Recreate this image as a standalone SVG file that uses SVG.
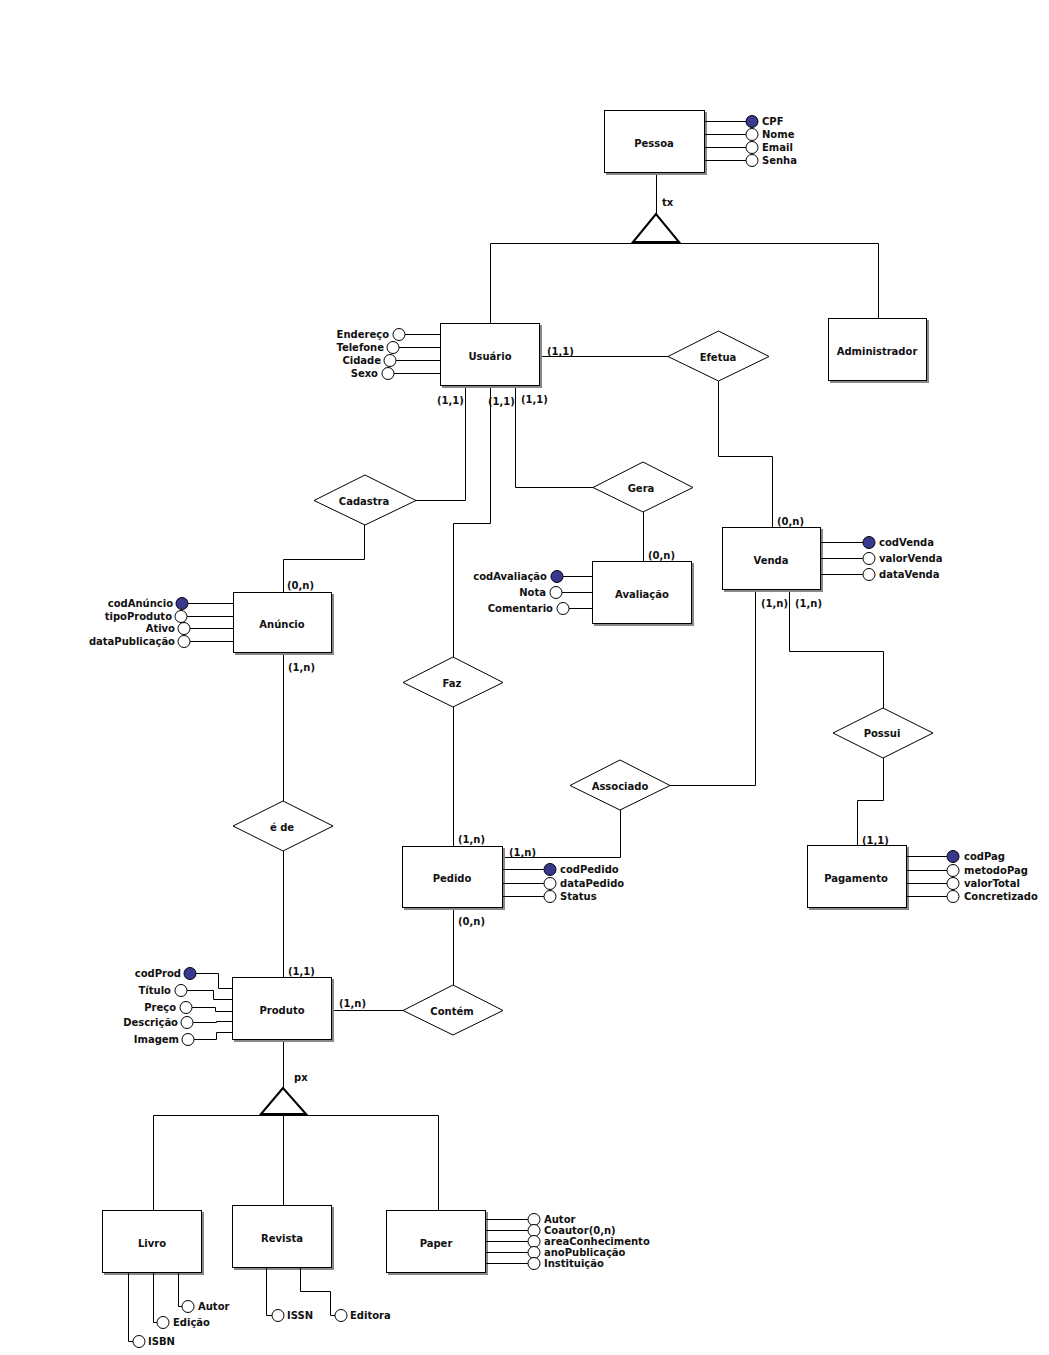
<svg xmlns="http://www.w3.org/2000/svg" width="1049" height="1355" viewBox="0 0 1049 1355">
<style>
text{font-family:"DejaVu Sans","Liberation Sans",sans-serif;font-weight:bold;font-size:10px;fill:#111}
.c{text-anchor:middle}
.r{text-anchor:end}
.box{fill:#fff;stroke:#000;stroke-width:1}
.sh{fill:#888}
.dia{fill:#fff;stroke:#000;stroke-width:1}
.ln{fill:none;stroke:#000;stroke-width:1}
.tri{fill:#fff;stroke:#000;stroke-width:2}
.ao{fill:#fff;stroke:#000;stroke-width:1}
.ak{fill:#38388f;stroke:#000;stroke-width:1}
</style>
<rect width="1049" height="1355" fill="#fff"/>
<g id="connectors">
<path class="ln" d="M656.5 173V214"/>
<path class="ln" d="M490.5 323V243.5H878.5V318"/>
<path class="ln" d="M540 356.5H668"/>
<path class="ln" d="M718.5 381V456.5H772.5V527"/>
<path class="ln" d="M465.5 386V500.5H415"/>
<path class="ln" d="M364.5 525V559.5H283.5V592"/>
<path class="ln" d="M490.5 386V523.5H453.5V657"/>
<path class="ln" d="M515.5 386V487.5H593"/>
<path class="ln" d="M643.5 512V561"/>
<path class="ln" d="M453.5 707V846"/>
<path class="ln" d="M755.5 590V785.5H670"/>
<path class="ln" d="M620.5 810V857.5H503"/>
<path class="ln" d="M789.5 590V651.5H883.5V708"/>
<path class="ln" d="M883.5 758V800.5H857.5V845"/>
<path class="ln" d="M283.5 653V801"/>
<path class="ln" d="M283.5 851V977"/>
<path class="ln" d="M453.5 908V985"/>
<path class="ln" d="M332 1010.5H403"/>
<path class="ln" d="M283.5 1040V1088"/>
<path class="ln" d="M153.5 1210V1115.5H438.5V1210"/>
<path class="ln" d="M283.5 1115V1205"/>
</g>
<g id="isa-tx">
<polygon class="tri" points="656,214 633,242 679,242"/>
<text x="662" y="206">tx</text>
</g>
<g id="isa-px">
<polygon class="tri" points="283,1088 261,1114 306,1114"/>
<text x="294" y="1081">px</text>
</g>
<g id="Pessoa">
<rect class="sh" x="606" y="112" width="101" height="63"/>
<rect class="box" x="604.5" y="110.5" width="100" height="62"/>
<text class="c" x="654" y="147">Pessoa</text>
<path class="ln" d="M705 121.5H746M705 134.5H746M705 147.5H746M705 160.5H746"/>
<circle class="ak" cx="752" cy="121.5" r="6"/>
<circle class="ao" cx="752" cy="134.5" r="6"/>
<circle class="ao" cx="752" cy="147.5" r="6"/>
<circle class="ao" cx="752" cy="160.5" r="6"/>
<text x="762" y="125">CPF</text>
<text x="762" y="138">Nome</text>
<text x="762" y="151">Email</text>
<text x="762" y="164">Senha</text>
</g>
<g id="Usuario">
<rect class="sh" x="442" y="325" width="100" height="63"/>
<rect class="box" x="440.5" y="323.5" width="99" height="62"/>
<text class="c" x="490" y="360">Usuário</text>
<path class="ln" d="M405 334.5H440M399 347.5H440M396 360.5H440M394 373.5H440"/>
<circle class="ao" cx="399" cy="334.5" r="6"/>
<circle class="ao" cx="393" cy="347.5" r="6"/>
<circle class="ao" cx="390" cy="360.5" r="6"/>
<circle class="ao" cx="388" cy="373.5" r="6"/>
<text class="r" x="389" y="338">Endereço</text>
<text class="r" x="384" y="351">Telefone</text>
<text class="r" x="381" y="364">Cidade</text>
<text class="r" x="378" y="377">Sexo</text>
</g>
<g id="Administrador">
<rect class="sh" x="830" y="320" width="99" height="63"/>
<rect class="box" x="828.5" y="318.5" width="98" height="62"/>
<text class="c" x="877" y="355">Administrador</text>
</g>
<g id="Efetua">
<polygon class="dia" points="668,356.5 718.5,331 769,356.5 718.5,381"/>
<text class="c" x="718" y="361">Efetua</text>
</g>
<g id="Cadastra">
<polygon class="dia" points="314,500.5 365,475 416,500.5 365,525"/>
<text class="c" x="364" y="505">Cadastra</text>
</g>
<g id="Gera">
<polygon class="dia" points="593,487.5 643,462 693,487.5 643,512"/>
<text class="c" x="641" y="492">Gera</text>
</g>
<g id="Avaliacao">
<rect class="sh" x="594" y="563" width="100" height="63"/>
<rect class="box" x="592.5" y="561.5" width="99" height="62"/>
<text class="c" x="642" y="598">Avaliação</text>
<path class="ln" d="M563 576.5H592M562 592.5H592M569 608.5H592"/>
<circle class="ak" cx="557" cy="576.5" r="6"/>
<circle class="ao" cx="556" cy="592.5" r="6"/>
<circle class="ao" cx="563" cy="608.5" r="6"/>
<text class="r" x="547" y="580">codAvaliação</text>
<text class="r" x="546" y="596">Nota</text>
<text class="r" x="553" y="612">Comentario</text>
</g>
<g id="Venda">
<rect class="sh" x="724" y="529" width="99" height="63"/>
<rect class="box" x="722.5" y="527.5" width="98" height="62"/>
<text class="c" x="771" y="564">Venda</text>
<path class="ln" d="M821 542.5H863M821 558.5H863M821 574.5H863"/>
<circle class="ak" cx="869" cy="542.5" r="6"/>
<circle class="ao" cx="869" cy="558.5" r="6"/>
<circle class="ao" cx="869" cy="574.5" r="6"/>
<text x="879" y="546">codVenda</text>
<text x="879" y="562">valorVenda</text>
<text x="879" y="578">dataVenda</text>
</g>
<g id="Anuncio">
<rect class="sh" x="235" y="594" width="99" height="61"/>
<rect class="box" x="233.5" y="592.5" width="98" height="60"/>
<text class="c" x="282" y="628">Anúncio</text>
<path class="ln" d="M188 603.5H233M187 616.5H233M190 628.5H233M190 641.5H233"/>
<circle class="ak" cx="182" cy="603.5" r="6"/>
<circle class="ao" cx="181" cy="616.5" r="6"/>
<circle class="ao" cx="184" cy="628.5" r="6"/>
<circle class="ao" cx="184" cy="641.5" r="6"/>
<text class="r" x="173" y="607">codAnúncio</text>
<text class="r" x="172" y="620">tipoProduto</text>
<text class="r" x="175" y="632">Ativo</text>
<text class="r" x="175" y="645">dataPublicação</text>
</g>
<g id="Faz">
<polygon class="dia" points="403,682.5 453,657 503,682.5 453,707"/>
<text class="c" x="452" y="687">Faz</text>
</g>
<g id="Associado">
<polygon class="dia" points="570,785.5 620,760 670,785.5 620,810"/>
<text class="c" x="620" y="790">Associado</text>
</g>
<g id="Possui">
<polygon class="dia" points="833,733 883,708 933,733 883,758"/>
<text class="c" x="882" y="737">Possui</text>
</g>
<g id="e-de">
<polygon class="dia" points="233,826 283,801 333,826 283,851"/>
<text class="c" x="282" y="831">é de</text>
</g>
<g id="Pedido">
<rect class="sh" x="404" y="848" width="101" height="62"/>
<rect class="box" x="402.5" y="846.5" width="100" height="61"/>
<text class="c" x="452" y="882">Pedido</text>
<path class="ln" d="M503 869.5H544M503 883.5H544M503 896.5H544"/>
<circle class="ak" cx="550" cy="869.5" r="6"/>
<circle class="ao" cx="550" cy="883.5" r="6"/>
<circle class="ao" cx="550" cy="896.5" r="6"/>
<text x="560" y="873">codPedido</text>
<text x="560" y="887">dataPedido</text>
<text x="560" y="900">Status</text>
</g>
<g id="Pagamento">
<rect class="sh" x="809" y="847" width="100" height="63"/>
<rect class="box" x="807.5" y="845.5" width="99" height="62"/>
<text class="c" x="856" y="882">Pagamento</text>
<path class="ln" d="M907 856.5H947M907 870.5H947M907 883.5H947M907 896.5H947"/>
<circle class="ak" cx="953" cy="856.5" r="6"/>
<circle class="ao" cx="953" cy="870.5" r="6"/>
<circle class="ao" cx="953" cy="883.5" r="6"/>
<circle class="ao" cx="953" cy="896.5" r="6"/>
<text x="964" y="860">codPag</text>
<text x="964" y="874">metodoPag</text>
<text x="964" y="887">valorTotal</text>
<text x="964" y="900">Concretizado</text>
</g>
<g id="Produto">
<rect class="sh" x="234" y="979" width="100" height="63"/>
<rect class="box" x="232.5" y="977.5" width="99" height="62"/>
<text class="c" x="282" y="1014">Produto</text>
<path class="ln" d="M196 973.5H218.5V988.5H232"/>
<path class="ln" d="M187 990.5H213.5V999.5H232"/>
<path class="ln" d="M192 1007.5H215.5V1011.5H232"/>
<path class="ln" d="M193 1022.5H216.5V1021.5H232"/>
<path class="ln" d="M194 1039.5H216.5V1032.5H232"/>
<circle class="ak" cx="190" cy="973.5" r="6"/>
<circle class="ao" cx="181" cy="990.5" r="6"/>
<circle class="ao" cx="186" cy="1007.5" r="6"/>
<circle class="ao" cx="187" cy="1022.5" r="6"/>
<circle class="ao" cx="188" cy="1039.5" r="6"/>
<text class="r" x="181" y="977">codProd</text>
<text class="r" x="171" y="994">Título</text>
<text class="r" x="176" y="1011">Preço</text>
<text class="r" x="178" y="1026">Descrição</text>
<text class="r" x="179" y="1043">Imagem</text>
</g>
<g id="Contem">
<polygon class="dia" points="403,1010.5 453,985 503,1010.5 453,1035"/>
<text class="c" x="452" y="1015">Contém</text>
</g>
<g id="Livro">
<rect class="sh" x="104" y="1212" width="100" height="63"/>
<rect class="box" x="102.5" y="1210.5" width="99" height="62"/>
<text class="c" x="152" y="1247">Livro</text>
<path class="ln" d="M128.5 1273V1341.5H133"/>
<path class="ln" d="M153.5 1273V1322.5H157"/>
<path class="ln" d="M178.5 1273V1306.5H182"/>
<circle class="ao" cx="139" cy="1341.5" r="6"/>
<circle class="ao" cx="163" cy="1322.5" r="6"/>
<circle class="ao" cx="188" cy="1306.5" r="6"/>
<text x="148" y="1345">ISBN</text>
<text x="173" y="1326">Edição</text>
<text x="198" y="1310">Autor</text>
</g>
<g id="Revista">
<rect class="sh" x="234" y="1207" width="100" height="63"/>
<rect class="box" x="232.5" y="1205.5" width="99" height="62"/>
<text class="c" x="282" y="1242">Revista</text>
<path class="ln" d="M266.5 1268V1315.5H272"/>
<path class="ln" d="M300.5 1268V1291.5H330.5V1315.5H335"/>
<circle class="ao" cx="278" cy="1315.5" r="6"/>
<circle class="ao" cx="341" cy="1315.5" r="6"/>
<text x="287" y="1319">ISSN</text>
<text x="350" y="1319">Editora</text>
</g>
<g id="Paper">
<rect class="sh" x="388" y="1212" width="100" height="63"/>
<rect class="box" x="386.5" y="1210.5" width="99" height="62"/>
<text class="c" x="436" y="1247">Paper</text>
<path class="ln" d="M486 1219.5H528M486 1230.5H528M486 1241.5H528M486 1252.5H528M486 1263.5H528"/>
<circle class="ao" cx="534" cy="1219.5" r="6"/>
<circle class="ao" cx="534" cy="1230.5" r="6"/>
<circle class="ao" cx="534" cy="1241.5" r="6"/>
<circle class="ao" cx="534" cy="1252.5" r="6"/>
<circle class="ao" cx="534" cy="1263.5" r="6"/>
<text x="544" y="1223">Autor</text>
<text x="544" y="1234">Coautor(0,n)</text>
<text x="544" y="1245">areaConhecimento</text>
<text x="544" y="1256">anoPublicação</text>
<text x="544" y="1267">Instituição</text>
</g>
<g id="cardinalities">
<text x="547" y="355">(1,1)</text>
<text x="437" y="404">(1,1)</text>
<text x="488" y="405">(1,1)</text>
<text x="521" y="403">(1,1)</text>
<text x="648" y="559">(0,n)</text>
<text x="777" y="525">(0,n)</text>
<text x="761" y="607">(1,n)</text>
<text x="795" y="607">(1,n)</text>
<text x="287" y="589">(0,n)</text>
<text x="288" y="671">(1,n)</text>
<text x="458" y="843">(1,n)</text>
<text x="509" y="856">(1,n)</text>
<text x="458" y="925">(0,n)</text>
<text x="862" y="844">(1,1)</text>
<text x="288" y="975">(1,1)</text>
<text x="339" y="1007">(1,n)</text>
</g>
</svg>
